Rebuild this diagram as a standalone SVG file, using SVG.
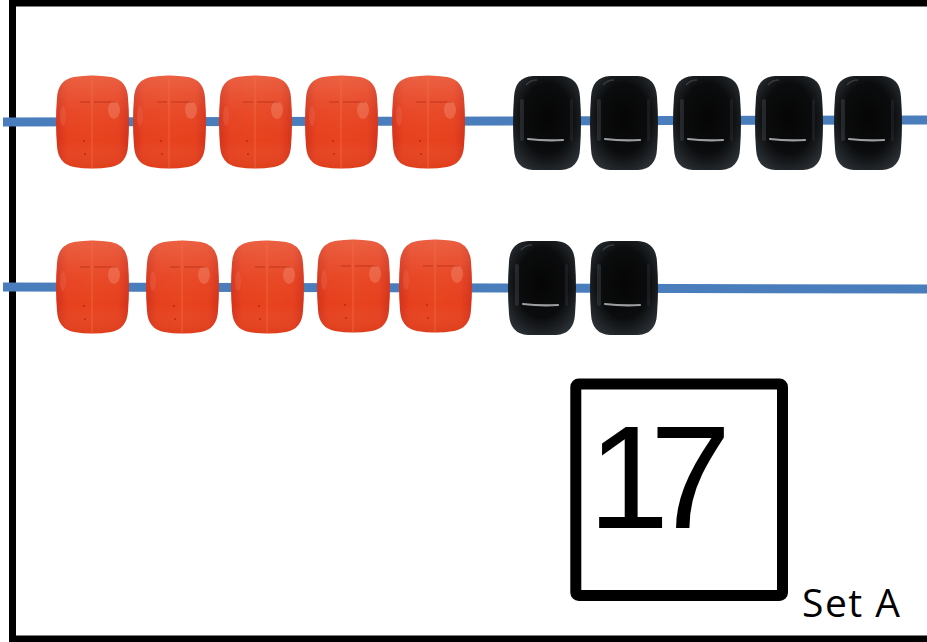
<svg xmlns="http://www.w3.org/2000/svg" width="927" height="642" viewBox="0 0 927 642">
<style>
.wire{stroke:#4a7dbb;stroke-width:9;fill:none}
.frame{stroke:#000;stroke-width:7;fill:none}
.box{stroke:#000;stroke-width:11;fill:none}
.num{font-family:"Liberation Sans",Arial,sans-serif;font-size:146px;fill:#000}
.lbl{font-family:"Open Sans","Liberation Sans",sans-serif;font-size:39px;fill:#000}
</style>
<defs>
<linearGradient id="redH" x1="0" y1="0" x2="1" y2="0">
<stop offset="0" stop-color="#d4321a"/>
<stop offset="0.15" stop-color="#e6401e"/>
<stop offset="0.5" stop-color="#e8431e"/>
<stop offset="0.85" stop-color="#e6401e"/>
<stop offset="1" stop-color="#d4321a"/>
</linearGradient>
<linearGradient id="redV" x1="0" y1="0" x2="0" y2="1">
<stop offset="0" stop-color="#fff" stop-opacity="0.16"/>
<stop offset="0.4" stop-color="#fff" stop-opacity="0.04"/>
<stop offset="0.7" stop-color="#fff" stop-opacity="0"/>
<stop offset="1" stop-color="#a02000" stop-opacity="0.12"/>
</linearGradient>
<radialGradient id="blk" cx="0.5" cy="0.45" r="0.62">
<stop offset="0" stop-color="#050505"/>
<stop offset="0.6" stop-color="#0b0c0d"/>
<stop offset="1" stop-color="#2a3035"/>
</radialGradient>
<path id="redShape" d="M18,3 Q36,0 55,3 Q71,6 72,24 Q74,48 72,72 Q71,90 55,93 Q36,96 18,93 Q2,90 1,72 Q-1,48 1,24 Q2,6 18,3 Z"/>
<g id="redBead">
<use href="#redShape" fill="url(#redH)"/>
<use href="#redShape" fill="url(#redV)"/>
<ellipse cx="58" cy="36" rx="6" ry="9" fill="#f8a890" opacity="0.3"/>
<ellipse cx="7" cy="42" rx="3" ry="10" fill="#f47a60" opacity="0.25"/>
<line x1="36" y1="3" x2="36" y2="94" stroke="#f27050" stroke-width="1.2" opacity="0.55"/>
<path d="M24,28 H34 M38,28 H60" stroke="#9a1c08" stroke-width="1" opacity="0.5"/>
<circle cx="28" cy="67" r="0.9" fill="#8a1806" opacity="0.6"/>
<circle cx="29" cy="80" r="0.9" fill="#8a1806" opacity="0.6"/>
</g>
<path id="blkShape" d="M20,1 H48 Q66,2 67,22 Q69,48 67,74 Q66,94 48,95 H20 Q2,94 1,74 Q-1,48 1,22 Q2,2 20,1 Z"/>
<g id="blackBead">
<use href="#blkShape" fill="url(#blk)"/>
<rect x="7" y="24" width="4" height="42" rx="2" fill="#4a5056" opacity="0.4"/>
<rect x="57" y="24" width="3" height="42" rx="1.5" fill="#3a4046" opacity="0.3"/>
<path d="M15,64 Q32,66 50,65" stroke="#9c9ea0" stroke-width="2.2" stroke-linecap="round" fill="none"/>
<path d="M13,10 Q17,5 24,5" stroke="#555b60" stroke-width="1.5" fill="none" opacity="0.5"/>
</g>
</defs>
<rect width="927" height="642" fill="#fff"/>
<g id="frame"><path class="frame" d="M927,3 H12.5 V639 H927"/></g>
<g id="wires">
<line class="wire" x1="3" y1="122" x2="927" y2="120"/>
<line class="wire" x1="3" y1="287" x2="927" y2="289"/>
</g>
<g id="row1">
<use id="r1b1" href="#redBead" transform="translate(56,74)"/>
<use id="r1b2" href="#redBead" transform="translate(133,74)"/>
<use id="r1b3" href="#redBead" transform="translate(219,74)"/>
<use id="r1b4" href="#redBead" transform="translate(305,74)"/>
<use id="r1b5" href="#redBead" transform="translate(392,74)"/>
<use id="r1k1" href="#blackBead" transform="translate(513,75)"/>
<use id="r1k2" href="#blackBead" transform="translate(590,75)"/>
<use id="r1k3" href="#blackBead" transform="translate(673,75)"/>
<use id="r1k4" href="#blackBead" transform="translate(755,75)"/>
<use id="r1k5" href="#blackBead" transform="translate(834,75)"/>
</g>
<g id="row2">
<use id="r2b1" href="#redBead" transform="translate(56,239)"/>
<use id="r2b2" href="#redBead" transform="translate(146,239)"/>
<use id="r2b3" href="#redBead" transform="translate(231,239)"/>
<use id="r2b4" href="#redBead" transform="translate(317,238)"/>
<use id="r2b5" href="#redBead" transform="translate(399,238)"/>
<use id="r2k1" href="#blackBead" transform="translate(508,240)"/>
<use id="r2k2" href="#blackBead" transform="translate(590,240)"/>
</g>
<g id="numberBox">
<rect class="box" x="575.8" y="384" width="206.7" height="211.5" rx="3"/>
<text class="num" x="588 650" y="528">17</text>
</g>
<g id="setLabel"><text class="lbl" x="802" y="617" textLength="98" lengthAdjust="spacing">Set A</text></g>
</svg>
